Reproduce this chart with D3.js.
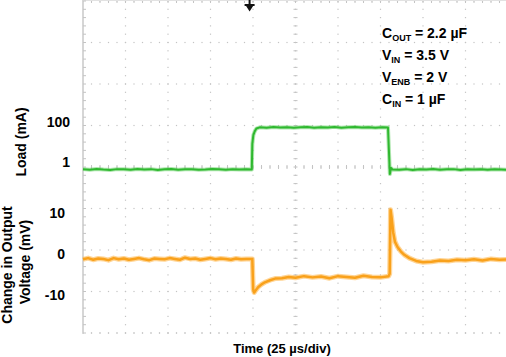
<!DOCTYPE html>
<html>
<head>
<meta charset="utf-8">
<script src="https://cdn.jsdelivr.net/npm/d3@7"></script>
<style>
  html, body { margin: 0; padding: 0; background: #fff; }
  svg { display: block; }
  text { font-family: "Liberation Sans", Arial, Helvetica, sans-serif; font-weight: bold; fill: #000; }
</style>
</head>
<body>
<svg id="chart" width="506" height="357"></svg>
<script>
// ---------------- data ----------------
// Load current trace (time in µs, load in mA, log axis)
const loadTime = [0,4,8,12,16,20,24,28,32,36,40,44,48,52,56,60,64,68,72,76,80,84,88,92,96,99.3,
  99.6,100.2,101,102,104,108,112,116,120,124,128,132,136,140,144,148,152,156,160,164,168,172,176,179.4,
  180.0,180.5,181.2,182,186,190,194,198,202,206,210,214,218,222,226,230,234,238,242,246,250];
const loadMa = [0.44,0.41,0.45,0.42,0.40,0.44,0.43,0.41,0.45,0.42,0.44,0.40,0.43,0.45,0.41,0.43,0.44,0.41,0.42,0.45,0.43,0.41,0.44,0.42,0.43,0.42,
  8,22,34,47,54,52,56,53,55,51,54,56,52,55,53,57,52,54,56,53,55,52,54,53,
  3,0.25,0.5,0.42,0.41,0.44,0.40,0.43,0.42,0.45,0.41,0.43,0.44,0.40,0.43,0.42,0.44,0.41,0.43,0.42,0.41];

// Output-voltage deviation trace (time in µs, change in mV)
const voutTime = [0,3,6,9,12,15,18,21,24,27,30,33,36,39,42,45,48,51,54,57,60,63,66,69,72,75,78,81,84,87,90,93,96,99.6,
  100.1,100.7,101.5,103,105,107,110,113,117,121,125,130,135,140,145,150,155,160,165,170,175,179.8,
  180.4,180.9,181.5,182.5,183.5,185,187,189,192,196,200,205,210,215,220,225,230,235,240,245,250];
const voutMv = [-1.3,-1.0,-1.4,-1.1,-1.2,-1.5,-1.0,-1.3,-1.1,-1.4,-1.2,-1.0,-1.3,-1.5,-1.1,-1.2,-1.3,-1.0,-1.2,-1.4,-0.9,-1.2,-1.1,-1.4,-1.2,-1.0,-1.3,-1.1,-1.2,-1.4,-1.1,-1.3,-1.2,-1.2,
  -8.6,-9.4,-8.9,-8.1,-7.4,-6.9,-6.4,-6.0,-5.9,-5.6,-5.8,-5.4,-5.7,-5.5,-5.9,-5.4,-5.6,-5.8,-5.3,-5.6,-5.7,-5.4,
  -4.8,10.8,9.0,5.2,3.0,1.7,0.6,-0.2,-1.0,-1.7,-2.0,-1.9,-1.6,-1.7,-1.4,-1.5,-1.3,-1.6,-1.2,-1.4,-1.3];

// Tick labels
const loadTicks = [1, 100];
const voutTicks = [10, 0, -10];
const triggerTime = [98];

// Annotation lines: [main, subscript, rest]
const noteLines = [["C","OUT"," = 2.2 µF"],["V","IN"," = 3.5 V"],["V","ENB"," = 2 V"],["C","IN"," = 1 µF"]];

// ---------------- chart ----------------
const svg = d3.select("#chart");
const X0 = 83, X1 = 508, Y0 = 1, Y1 = 333;

const x = d3.scaleLinear().domain([0, 250]).range([X0, X1]);
const xDiv = d3.scaleLinear().domain([0, 10]).range([X0, X1]);
const yDiv = d3.scaleLinear().domain([0, 8]).range([Y0, Y1]);
const yLoad = d3.scaleLog().domain([1, 100]).range([162, 122]);
const yVout = d3.scaleLinear().domain([-10, 10]).range([295, 213]);

const grid = svg.append("g");
const gridColor = "#c4c4c4";
// dotted graticule
const xMinor = d3.range(0, 10.001, 0.2);
const yMinor = d3.range(0, 8.001, 0.2);
d3.range(1, 10).forEach(i => {
  grid.selectAll(null).data(yMinor).enter().append("rect")
    .attr("x", xDiv(i) - 0.6).attr("y", d => yDiv(d) - 0.6)
    .attr("width", 1.2).attr("height", 1.2).attr("fill", gridColor);
});
d3.range(0, 9).forEach(j => {
  grid.selectAll(null).data(xMinor).enter().append("rect")
    .attr("x", d => xDiv(d) - 0.6).attr("y", yDiv(j) - 0.6)
    .attr("width", 1.2).attr("height", 1.2).attr("fill", gridColor);
});
// bottom border dots
grid.selectAll(null).data(xMinor).enter().append("rect")
  .attr("x", d => xDiv(d) - 0.6).attr("y", yDiv(8) - 0.6)
  .attr("width", 1.2).attr("height", 1.2).attr("fill", gridColor);
// center axes with tick marks
grid.selectAll(null).data(yMinor).enter().append("line")
  .attr("x1", xDiv(5) - 2).attr("x2", xDiv(5) + 2)
  .attr("y1", d => yDiv(d)).attr("y2", d => yDiv(d))
  .attr("stroke", gridColor).attr("stroke-width", 1);
grid.selectAll(null).data(xMinor).enter().append("line")
  .attr("y1", yDiv(4) - 2).attr("y2", yDiv(4) + 2)
  .attr("x1", d => xDiv(d)).attr("x2", d => xDiv(d))
  .attr("stroke", gridColor).attr("stroke-width", 1);
// top border with ticks
grid.selectAll(null).data(xMinor).enter().append("line")
  .attr("y1", 0).attr("y2", 3)
  .attr("x1", d => xDiv(d)).attr("x2", d => xDiv(d))
  .attr("stroke", gridColor).attr("stroke-width", 1);
grid.append("line").attr("x1", X0).attr("x2", X1).attr("y1", 0.5).attr("y2", 0.5)
  .attr("stroke", "#e2e2e2").attr("stroke-width", 1);
// left border with ticks
grid.append("line").attr("x1", X0).attr("x2", X0).attr("y1", Y0).attr("y2", Y1)
  .attr("stroke", "#d6d6d6").attr("stroke-width", 2);
grid.selectAll(null).data(yMinor).enter().append("line")
  .attr("x1", X0).attr("x2", X0 + 3)
  .attr("y1", d => yDiv(d)).attr("y2", d => yDiv(d))
  .attr("stroke", gridColor).attr("stroke-width", 1);

// traces
const loadLine = d3.line().x(d => x(d[0])).y(d => yLoad(d[1]));
const voutLine = d3.line().x(d => x(d[0])).y(d => yVout(d[1]));
const loadData = loadTime.map((t, i) => [t, loadMa[i]]);
const voutData = voutTime.map((t, i) => [t, voutMv[i]]);

svg.append("path").datum(voutData).attr("d", voutLine)
  .attr("fill", "none").attr("stroke", "#ffb340").attr("stroke-width", 5).attr("stroke-opacity", 0.55)
  .attr("stroke-linejoin", "round");
svg.append("path").datum(voutData).attr("d", voutLine)
  .attr("fill", "none").attr("stroke", "#f9a11b").attr("stroke-width", 2.5)
  .attr("stroke-linejoin", "round");

svg.append("path").datum(loadData).attr("d", loadLine)
  .attr("fill", "none").attr("stroke", "#5fcf5f").attr("stroke-width", 4).attr("stroke-opacity", 0.5)
  .attr("stroke-linejoin", "round");
svg.append("path").datum(loadData).attr("d", loadLine)
  .attr("fill", "none").attr("stroke", "#2fb82f").attr("stroke-width", 2)
  .attr("stroke-linejoin", "round");

// trigger marker
svg.selectAll(null).data(triggerTime).enter().append("path")
  .attr("d", d => {
    const cx = x(d);
    return `M${cx - 1},0 L${cx + 1},0 L${cx + 1},4 L${cx + 5},4 L${cx + 5},6 L${cx + 3.5},6 L${cx},11.5 L${cx - 3.5},6 L${cx - 5},6 L${cx - 5},4 L${cx - 1},4 Z`;
  })
  .attr("fill", "#111");

// tick labels
svg.selectAll(null).data(loadTicks).enter().append("text")
  .attr("x", 70).attr("y", d => yLoad(d)).attr("dy", "0.36em")
  .attr("text-anchor", "end").attr("font-size", 14).text(d => d);
svg.selectAll(null).data(voutTicks).enter().append("text")
  .attr("x", 65).attr("y", d => yVout(d)).attr("dy", "0.36em")
  .attr("text-anchor", "end").attr("font-size", 14).text(d => d);

// axis titles
svg.append("text").attr("transform", "translate(26,142) rotate(-90)")
  .attr("text-anchor", "middle").attr("font-size", 14).text("Load (mA)");
svg.append("text").attr("transform", "translate(12,265) rotate(-90)")
  .attr("text-anchor", "middle").attr("font-size", 14).text("Change in Output");
svg.append("text").attr("transform", "translate(30,262) rotate(-90)")
  .attr("text-anchor", "middle").attr("font-size", 14).text("Voltage (mV)");
svg.append("text").attr("x", 282).attr("y", 353)
  .attr("text-anchor", "middle").attr("font-size", 13).text("Time (25 µs/div)");

// annotation
const note = svg.append("g");
noteLines.forEach((ln, i) => {
  const t = note.append("text").attr("x", 382).attr("y", 38 + i * 22).attr("font-size", 14);
  t.append("tspan").text(ln[0]);
  t.append("tspan").attr("font-size", 9).attr("dy", 3).text(ln[1]);
  t.append("tspan").attr("dy", -3).text(ln[2]);
});
</script>
</body>
</html>
